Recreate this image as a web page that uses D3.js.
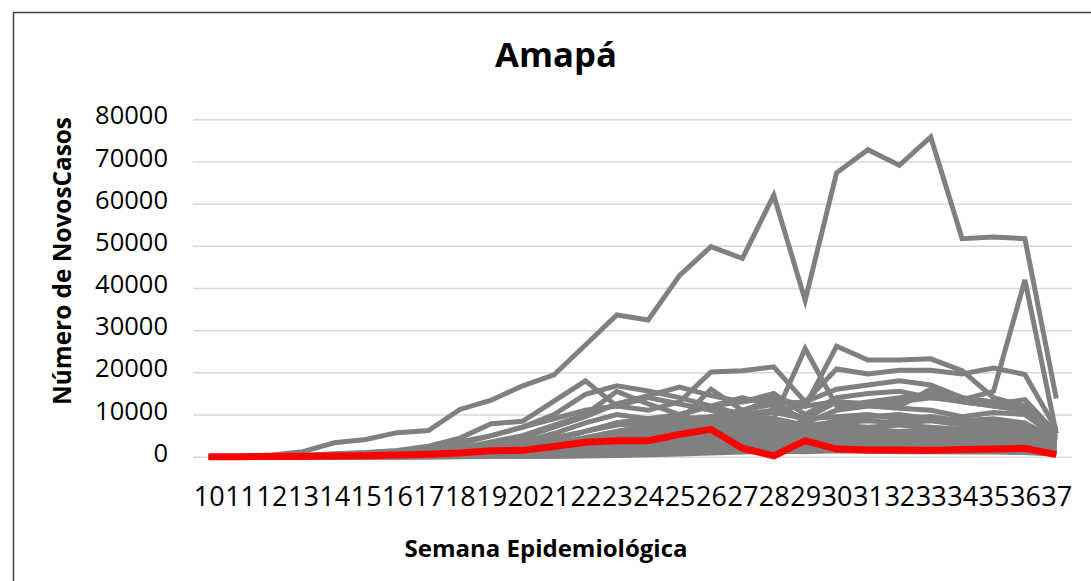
<!DOCTYPE html>
<html>
<head>
<meta charset="utf-8">
<script src="https://cdn.jsdelivr.net/npm/d3@7"></script>
<style>
  html, body { margin: 0; padding: 0; background: #fff; }
  svg { display: block; }
</style>
</head>
<body>
<svg width="1091" height="581"></svg>
<script>
// semanas epidemiologicas (categorias do eixo x)
const semanas = [10, 11, 12, 13, 14, 15, 16, 17, 18, 19, 20, 21, 22, 23, 24, 25, 26, 27, 28, 29, 30, 31, 32, 33, 34, 35, 36, 37];
const yTicks = [0, 10000, 20000, 30000, 40000, 50000, 60000, 70000, 80000];

// Amapá (linha vermelha)
const amapa = [0, 0, 50, 100, 150, 250, 400, 600, 900, 1400, 1500, 2400, 3400, 3800, 3800, 5300, 6500, 2000, 200, 3800, 1800, 1600, 1600, 1500, 1700, 1800, 2000, 500];

// demais estados (linhas cinzas)
const serie01 = [0, 100, 400, 1200, 3300, 4100, 5700, 6200, 11200, 13400, 16800, 19400, 26500, 33600, 32400, 43000, 49800, 47000, 62000, 37100, 67300, 72800, 69100, 75800, 51700, 52100, 51700, 13800];
const serie02 = [0, 0, 50, 100, 200, 300, 500, 800, 1500, 2500, 3500, 4500, 6000, 7500, 8000, 9000, 9500, 10000, 11000, 12000, 13000, 12500, 13000, 14000, 13500, 15500, 41900, 5500];
const serie03 = [0, 0, 0, 50, 100, 200, 300, 500, 900, 1500, 2500, 4000, 6000, 8000, 9000, 10000, 12000, 13000, 14000, 12000, 26200, 22900, 22900, 23200, 20400, 14000, 12000, 4500];
const serie04 = [0, 0, 50, 200, 500, 800, 1200, 2000, 3500, 5000, 7000, 9000, 11000, 12000, 11000, 13000, 20100, 20400, 21300, 13000, 16000, 17000, 18000, 17000, 14000, 13000, 12000, 4000];
const serie05 = [0, 0, 100, 300, 700, 1000, 1500, 2500, 4400, 7800, 8400, 13200, 18000, 12000, 14000, 12500, 11000, 9000, 8000, 7000, 6500, 6000, 5500, 6000, 5500, 5000, 4500, 2500];
const serie06 = [0, 0, 0, 50, 150, 400, 800, 1500, 3000, 5000, 7000, 10000, 14800, 16800, 15600, 14000, 12000, 10000, 9000, 7000, 6000, 5500, 5000, 4500, 4000, 4500, 4000, 2000];
const serie07 = [0, 0, 0, 50, 100, 200, 300, 500, 800, 1200, 2000, 3000, 4500, 6000, 7000, 8000, 9000, 9500, 9000, 25600, 12000, 13000, 14000, 15000, 13000, 12000, 11000, 4500];
const serie08 = [0, 0, 0, 20, 60, 120, 200, 400, 700, 1000, 1500, 2500, 3500, 5000, 6500, 8000, 9500, 11000, 12500, 13000, 20800, 19600, 20500, 20500, 19600, 21000, 19500, 6500];
const serie09 = [0, 0, 20, 80, 200, 400, 700, 1200, 2000, 3000, 4500, 7000, 9500, 12500, 14500, 16500, 14500, 13000, 15000, 10000, 14000, 15000, 15500, 14000, 13000, 12000, 11000, 5000];
const serie10 = [0, 0, 0, 30, 100, 300, 600, 1000, 2000, 3500, 5000, 7500, 10000, 15500, 12500, 10000, 12000, 14000, 12000, 9000, 13000, 12500, 12000, 16000, 14000, 12500, 13500, 5500];
const serie11 = [0, 0, 0, 10, 50, 150, 300, 600, 1200, 2000, 3500, 5500, 8000, 10000, 9000, 8500, 16000, 11000, 13500, 8000, 11000, 12000, 11500, 11000, 9500, 10500, 10000, 4500];
const serie12 = [0, 0, 0, 10, 40, 100, 200, 400, 800, 1500, 2500, 4000, 6000, 8000, 9000, 9500, 8500, 8000, 9000, 7000, 8500, 9500, 10000, 9000, 8500, 9000, 8000, 4000];
const serie13 = [0, 0, 0, 0, 20, 60, 150, 300, 600, 1000, 1800, 3000, 4500, 6000, 7500, 8500, 9000, 9500, 10500, 9000, 9500, 10000, 9000, 9500, 8500, 8000, 7500, 3500];
const serie14 = [0, 0, 0, 0, 10, 40, 100, 250, 500, 900, 1500, 2500, 3500, 5000, 6000, 7000, 8000, 8500, 9000, 7500, 8000, 8500, 8000, 8500, 7500, 7000, 6500, 3500];
const serie15 = [0, 0, 0, 0, 10, 30, 80, 200, 400, 700, 1200, 2000, 3000, 4000, 5000, 6000, 7000, 7500, 8000, 6500, 7500, 7000, 7500, 7000, 6500, 6000, 6000, 3000];
const serie16 = [0, 0, 0, 0, 5, 20, 60, 150, 300, 600, 1000, 1600, 2500, 3500, 4500, 5500, 6500, 7000, 7000, 6000, 6500, 6500, 6000, 6500, 6000, 5500, 5000, 3000];
const serie17 = [0, 0, 0, 0, 5, 15, 40, 100, 250, 500, 800, 1300, 2000, 2800, 3800, 4500, 5500, 6000, 6500, 5500, 6000, 5500, 5500, 6000, 5500, 5000, 4500, 2500];
const serie18 = [0, 0, 0, 0, 0, 10, 30, 80, 200, 400, 700, 1100, 1700, 2400, 3200, 4000, 4800, 5500, 6000, 5000, 5500, 5000, 5000, 5000, 5000, 4500, 4000, 2500];
const serie19 = [0, 0, 0, 0, 0, 5, 20, 60, 150, 300, 500, 800, 1300, 1900, 2600, 3300, 4000, 4500, 5000, 4200, 4800, 4600, 4500, 4300, 4200, 4000, 3800, 2000];
const serie20 = [0, 0, 0, 0, 0, 5, 15, 40, 100, 200, 400, 650, 1000, 1500, 2000, 2600, 3200, 3700, 4000, 3600, 4000, 3800, 3700, 3600, 3500, 3300, 3100, 2000];
const serie21 = [0, 0, 0, 0, 0, 0, 10, 30, 80, 150, 300, 500, 800, 1100, 1500, 2000, 2500, 3000, 3200, 3000, 3300, 3200, 3000, 3000, 2900, 2800, 2600, 1500];
const serie22 = [0, 0, 0, 0, 0, 0, 5, 20, 50, 100, 200, 350, 600, 850, 1200, 1600, 2000, 2300, 2600, 2400, 2700, 2600, 2500, 2400, 2300, 2200, 2100, 1200];
const serie23 = [0, 0, 0, 0, 0, 0, 5, 15, 40, 80, 150, 250, 400, 600, 850, 1100, 1400, 1700, 2000, 1900, 2100, 2000, 1900, 1800, 1800, 1700, 1600, 1000];
const serie24 = [0, 0, 0, 0, 0, 0, 0, 10, 30, 60, 120, 200, 300, 450, 650, 900, 1200, 1500, 1800, 1700, 1900, 1800, 1700, 1700, 1600, 1500, 1400, 800];
const serie25 = [0, 0, 0, 0, 0, 0, 0, 5, 20, 50, 100, 180, 300, 500, 800, 1500, 3000, 2500, 0, 3500, 3000, 2800, 2700, 2600, 2500, 2400, 2300, 1200];
const serie26 = [0, 0, 0, 0, 0, 0, 0, 0, 10, 30, 60, 100, 180, 300, 450, 650, 900, 1100, 1300, 1200, 1400, 1300, 1200, 1200, 1100, 1100, 1000, 600];

const outros = [serie01, serie02, serie03, serie04, serie05, serie06, serie07, serie08, serie09, serie10,
	serie11, serie12, serie13, serie14, serie15, serie16, serie17, serie18, serie19, serie20,
	serie21, serie22, serie23, serie24, serie25, serie26];

const svg = d3.select('svg');
const fonte = "'Open Sans', 'Noto Sans', sans-serif";

// moldura do grafico
svg.append('rect')
	.attr('x', 13.5)
	.attr('y', 12.5)
	.attr('width', 1100)
	.attr('height', 600)
	.style('fill', 'none')
	.style('stroke', '#404040')
	.style('stroke-width', 1.5);

const x = d3.scalePoint()
	.domain(semanas)
	.range([193, 1072])
	.padding(0.5);

const y = d3.scaleLinear()
	.domain([0, 80000])
	.range([456.7, 119.3]);

// grade horizontal + rotulos do eixo y
const yAxis = d3.axisLeft(y)
	.tickValues(yTicks)
	.tickSize(-(1072 - 193))
	.tickPadding(25)
	.tickFormat(d3.format('d'));

const gy = svg.append('g')
	.attr('transform', 'translate(193,0)')
	.call(yAxis);
gy.select('.domain').remove();
gy.selectAll('.tick line')
	.style('stroke', '#d9d9d9')
	.style('stroke-width', 1.5);
gy.selectAll('.tick text')
	.attr('font-family', fonte)
	.attr('font-size', 25.5)
	.attr('fill', '#000')
	.attr('dy', '0.18em');

// rotulos do eixo x
const xAxis = d3.axisBottom(x)
	.tickSize(0)
	.tickPadding(0);

const gx = svg.append('g')
	.attr('transform', 'translate(0,487)')
	.call(xAxis);
gx.select('.domain').remove();
gx.selectAll('.tick text')
	.attr('font-family', fonte)
	.attr('font-size', 27)
	.attr('fill', '#000')
	.attr('dy', '0.71em');

// linhas
const line = d3.line()
	.x((d, i) => x(semanas[i]))
	.y(d => y(d));

svg.append('g')
	.selectAll('path')
	.data(outros)
	.enter()
	.append('path')
	.attr('d', line)
	.style('fill', 'none')
	.style('stroke', '#808080')
	.style('stroke-width', 5)
	.style('stroke-linejoin', 'miter');

svg.append('path')
	.datum(amapa)
	.attr('d', line)
	.style('fill', 'none')
	.style('stroke', '#ff0000')
	.style('stroke-width', 7);

// titulos (tamanho ajustado a largura medida no original)
function fitText(sel, alvo, base) {
	const w = sel.node().getComputedTextLength();
	sel.attr('font-size', base * alvo / w);
}

const titulo = svg.append('text')
	.attr('x', 556)
	.attr('y', 67)
	.attr('text-anchor', 'middle')
	.attr('font-family', fonte)
	.attr('font-weight', 'bold')
	.attr('font-size', 34)
	.text('Amapá');
fitText(titulo, 122, 34);

const xTitulo = svg.append('text')
	.attr('x', 546)
	.attr('y', 557)
	.attr('text-anchor', 'middle')
	.attr('font-family', fonte)
	.attr('font-weight', 'bold')
	.attr('font-size', 22)
	.text('Semana Epidemiológica');
fitText(xTitulo, 283, 22);

const yTitulo = svg.append('text')
	.attr('transform', 'translate(71,261) rotate(-90)')
	.attr('text-anchor', 'middle')
	.attr('font-family', fonte)
	.attr('font-weight', 'bold')
	.attr('font-size', 22)
	.text('Número de NovosCasos');
fitText(yTitulo, 288, 22);
</script>
</body>
</html>
